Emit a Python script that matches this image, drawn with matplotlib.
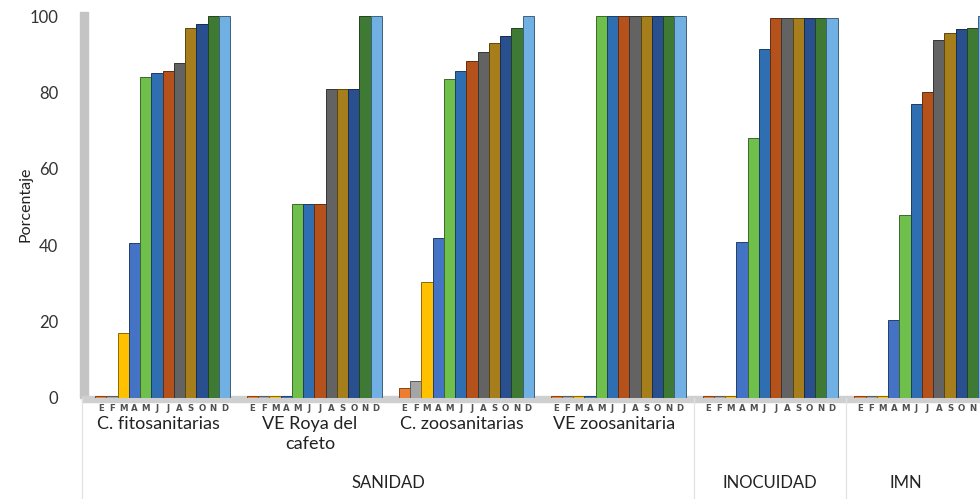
import matplotlib.pyplot as plt
import matplotlib.colors as mcolors
from matplotlib.patches import Rectangle
import numpy as np

# datos (porcentaje de avance mensual)
meses = ['E', 'F', 'M', 'A', 'M', 'J', 'J', 'A', 'S', 'O', 'N', 'D']
categorias = ['C. fitosanitarias', 'VE Roya del\ncafeto', 'C. zoosanitarias',
              'VE zoosanitaria', '', '']
grupos = ['SANIDAD', 'INOCUIDAD', 'IMN']

fitosanitarias = [0.5, 0.5, 17, 40.5, 84, 85, 85.6, 87.7, 97, 98, 100, 100]
roya_cafeto = [0.5, 0.5, 0.5, 0.5, 50.8, 50.8, 50.8, 81, 81, 81, 100, 100]
zoosanitarias = [2.5, 4.5, 30.4, 42, 83.6, 85.7, 88.3, 90.7, 93, 94.8, 97, 100]
ve_zoosanitaria = [0.5, 0.5, 0.5, 0.5, 100, 100, 100, 100, 100, 100, 100, 100]
inocuidad = [0.5, 0.5, 0.5, 40.8, 68, 91.5, 99.5, 99.5, 99.5, 99.5, 99.5, 99.5]
imn = [0.5, 0.5, 0.5, 20.4, 48, 77, 80, 93.7, 95.7, 96.5, 97, 100]

series = [fitosanitarias, roya_cafeto, zoosanitarias, ve_zoosanitaria, inocuidad, imn]

colores = ['#ED7D31', '#A5A5A5', '#FFC000', '#4472C4', '#6FBF4C', '#2F6EB0',
           '#B5521C', '#636363', '#A67F1C', '#2A4F8F', '#3F7A34', '#70B0E3']

fig = plt.figure(figsize=(9.8, 4.99), dpi=100)
ax = fig.add_axes([82 / 980, 101 / 499, 898 / 980, 388 / 499])

x_izq, x_der = -1.16, 78.66
paso = 13.5
for g, vals in enumerate(series):
    for j, v in enumerate(vals):
        x = g * paso + j + 0.5
        borde = tuple(c * 0.55 for c in mcolors.to_rgb(colores[j]))
        ax.bar(x, v, width=1.0, color=colores[j], edgecolor=borde, linewidth=0.7)
        if x < x_der - 0.6:
            ax.text(x, -0.027, meses[j], transform=ax.get_xaxis_transform(),
                    ha='center', va='center', fontsize=6.2, fontweight='bold',
                    color='#505050')
    ax.text(g * paso + 5.6, -0.047, categorias[g], transform=ax.get_xaxis_transform(),
            ha='center', va='top', fontsize=13, family='Lato', color='#222222',
            linespacing=1.3)

ax.set_xlim(x_izq, x_der)
ax.set_ylim(0, 101.6)

# separadores de grupos
sep1 = 3 * paso + 12 + 0.75
sep2 = 4 * paso + 12 + 0.75
for s in [x_izq + 0.02, sep1, sep2]:
    ax.plot([s, s], [0, -0.26], transform=ax.get_xaxis_transform(),
            color='#e2e2e2', lw=0.9, clip_on=False)

centros = [(x_izq + sep1) / 2, (sep1 + sep2) / 2, (sep2 + x_der) / 2 - 0.6]
for c, nombre in zip(centros, grupos):
    ax.text(c, -0.22, nombre, transform=ax.get_xaxis_transform(),
            ha='center', va='center', fontsize=12, family='Lato', color='#222222')

# pared izquierda y piso (efecto 3D)
ax.add_patch(Rectangle((-2 / 898, 0), 8 / 898, 386 / 388, transform=ax.transAxes,
                       color='#c4c4c4', clip_on=False, zorder=0))
ax.add_patch(Rectangle((0, -4 / 388), 1, 6 / 388, transform=ax.transAxes,
                       color='#cfcfcf', clip_on=False, zorder=0))

for sp in ax.spines.values():
    sp.set_visible(False)
ax.set_xticks([])
ax.set_yticks([0, 20, 40, 60, 80, 100])
ax.tick_params(axis='y', length=0, pad=17, labelsize=12, labelcolor='#333333')
for t in ax.get_yticklabels():
    t.set_family('Lato')
ax.set_ylabel('Porcentaje', fontsize=11.5, family='Lato', color='#222222', labelpad=-2)

plt.savefig('out.png', dpi=100)
